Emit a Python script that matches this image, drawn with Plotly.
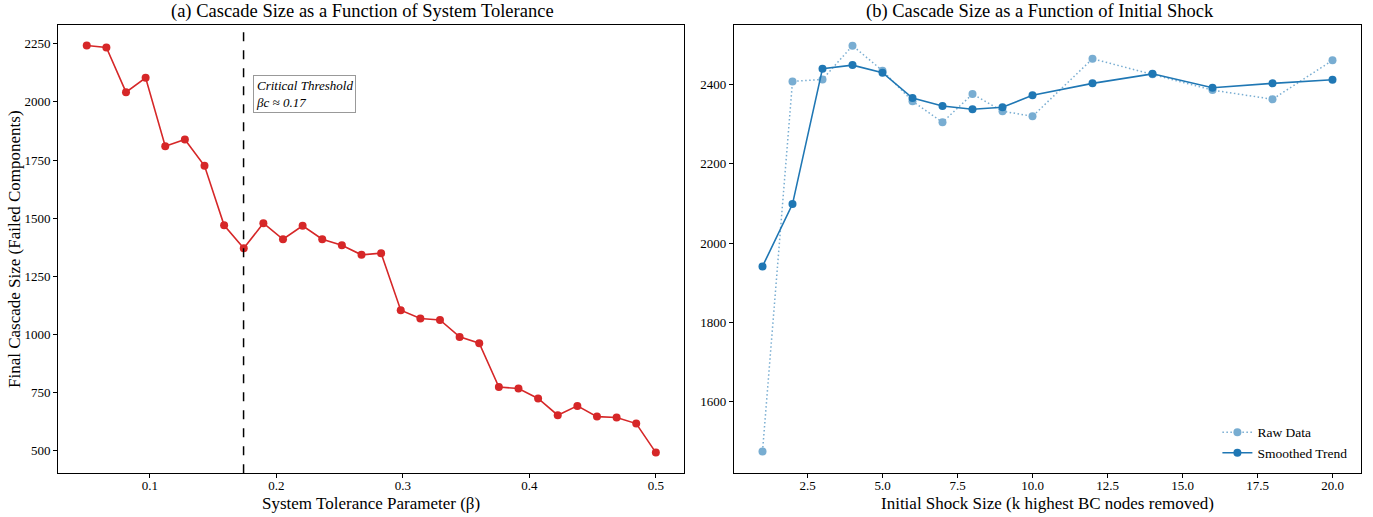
import plotly.graph_objects as go

# ---- Data ----
beta = [0.05 + i * (0.45 / 29) for i in range(30)]
cascade_a = [2243, 2234, 2042, 2104, 1809, 1838, 1725, 1469, 1370, 1478,
             1409, 1467, 1409, 1383, 1342, 1349, 1104, 1068, 1062, 989,
             962, 773, 767, 724, 652, 692, 646, 642, 616, 491]
beta_c = 0.174

k_vals = [1, 2, 3, 4, 5, 6, 7, 8, 9, 10, 12, 14, 16, 18, 20]
raw_b = [1475, 2407, 2412, 2497, 2434, 2357, 2304, 2375, 2332, 2319,
         2464, 2425, 2385, 2362, 2460]
smooth_b = [1941, 2098, 2439, 2448, 2429, 2365, 2345, 2337, 2342, 2372,
            2402, 2426, 2391, 2402, 2411]

ticks_a_x = [0.1, 0.2, 0.3, 0.4, 0.5]
ticks_a_y = [500, 750, 1000, 1250, 1500, 1750, 2000, 2250]
ticks_b_x = [2.5, 5.0, 7.5, 10.0, 12.5, 15.0, 17.5, 20.0]
ticks_b_y = [1600, 1800, 2000, 2200, 2400]

FONT = "Liberation Serif, Times New Roman, serif"
W, H = 1373, 517

fig = go.Figure()

fig.add_trace(go.Scatter(
    x=beta, y=cascade_a, mode="lines+markers", xaxis="x", yaxis="y",
    line=dict(color="#d62728", width=1.6),
    marker=dict(color="#d62728", size=8), showlegend=False))

fig.add_trace(go.Scatter(
    x=k_vals, y=raw_b, mode="lines+markers", xaxis="x2", yaxis="y2",
    name="Raw Data", opacity=0.6,
    line=dict(color="#1f77b4", width=1.5, dash="1.5px,2.5px"),
    marker=dict(color="#1f77b4", size=8)))

fig.add_trace(go.Scatter(
    x=k_vals, y=smooth_b, mode="lines+markers", xaxis="x2", yaxis="y2",
    name="Smoothed Trend",
    line=dict(color="#1f77b4", width=1.6),
    marker=dict(color="#1f77b4", size=8)))

axis_common = dict(showgrid=False, zeroline=False, showline=True, mirror=True,
                   linecolor="black", linewidth=1.3, ticks="outside",
                   ticklen=4, tickwidth=1, tickcolor="black",
                   tickfont=dict(family=FONT, size=13, color="black"))

ydom = [43.7 / H, (H - 25) / H]

fig.update_layout(
    width=W, height=H, margin=dict(l=0, r=0, t=0, b=0),
    paper_bgcolor="white", plot_bgcolor="white",
    font=dict(family=FONT, color="black"),
    xaxis=dict(domain=[58.3 / W, 684.3 / W], range=[0.0275, 0.5225],
               tickvals=ticks_a_x, ticktext=[f"{v:g}" for v in ticks_a_x],
               anchor="y", ticklabelstandoff=-4, **axis_common),
    yaxis=dict(domain=ydom, range=[402, 2331], tickvals=ticks_a_y,
               anchor="x", **axis_common),
    xaxis2=dict(domain=[734 / W, 1361 / W], range=[0.05, 20.95],
                tickvals=ticks_b_x, ticktext=[f"{v:.1f}" for v in ticks_b_x],
                anchor="y2", ticklabelstandoff=-4, **axis_common),
    yaxis2=dict(domain=ydom, range=[1420, 2549], tickvals=ticks_b_y,
                anchor="x2", **axis_common),
    legend=dict(x=0.985, y=0.093, xanchor="right", yanchor="bottom",
                bgcolor="rgba(255,255,255,0)", borderwidth=0,
                tracegroupgap=0,
                font=dict(family=FONT, size=13.5, color="black")),
)

# Critical threshold line
fig.add_shape(type="line", xref="x", yref="paper", x0=beta_c, x1=beta_c,
              y0=ydom[0], y1=ydom[1],
              line=dict(color="black", width=1.5, dash="dash"))

fig.add_annotation(xref="x", yref="y", x=0.1818, y=2115, xanchor="left",
                   yanchor="top", align="left", showarrow=False,
                   text=f"<i>Critical Threshold<br>βc ≈ {beta_c:.2f}</i>",
                   font=dict(family=FONT, size=13, color="black"),
                   bgcolor="white", bordercolor="#999999", borderwidth=1,
                   borderpad=2)

# Titles
fig.add_annotation(xref="paper", yref="paper", x=362 / W, y=(H - 12) / H,
                   xanchor="center", yanchor="middle", showarrow=False,
                   text="(a) Cascade Size as a Function of System Tolerance",
                   font=dict(family=FONT, size=18.5, color="black"))
fig.add_annotation(xref="paper", yref="paper", x=1040 / W, y=(H - 12) / H,
                   xanchor="center", yanchor="middle", showarrow=False,
                   text="(b) Cascade Size as a Function of Initial Shock",
                   font=dict(family=FONT, size=18.5, color="black"))

# Axis labels
fig.add_annotation(xref="paper", yref="paper", x=371 / W, y=(H - 503) / H,
                   xanchor="center", yanchor="middle", showarrow=False,
                   text="System Tolerance Parameter (β)",
                   font=dict(family=FONT, size=17, color="black"))
fig.add_annotation(xref="paper", yref="paper", x=1047.5 / W, y=(H - 503) / H,
                   xanchor="center", yanchor="middle", showarrow=False,
                   text="Initial Shock Size (k highest BC nodes removed)",
                   font=dict(family=FONT, size=17, color="black"))
fig.add_annotation(xref="paper", yref="paper", x=14 / W, y=(H - 249) / H,
                   xanchor="center", yanchor="middle", showarrow=False,
                   textangle=-90,
                   text="Final Cascade Size (Failed Components)",
                   font=dict(family=FONT, size=17, color="black"))

fig.write_html("out.html", config={"displayModeBar": False},
               post_script="document.body.style.margin='0';"
                           "document.body.style.padding='0';")
